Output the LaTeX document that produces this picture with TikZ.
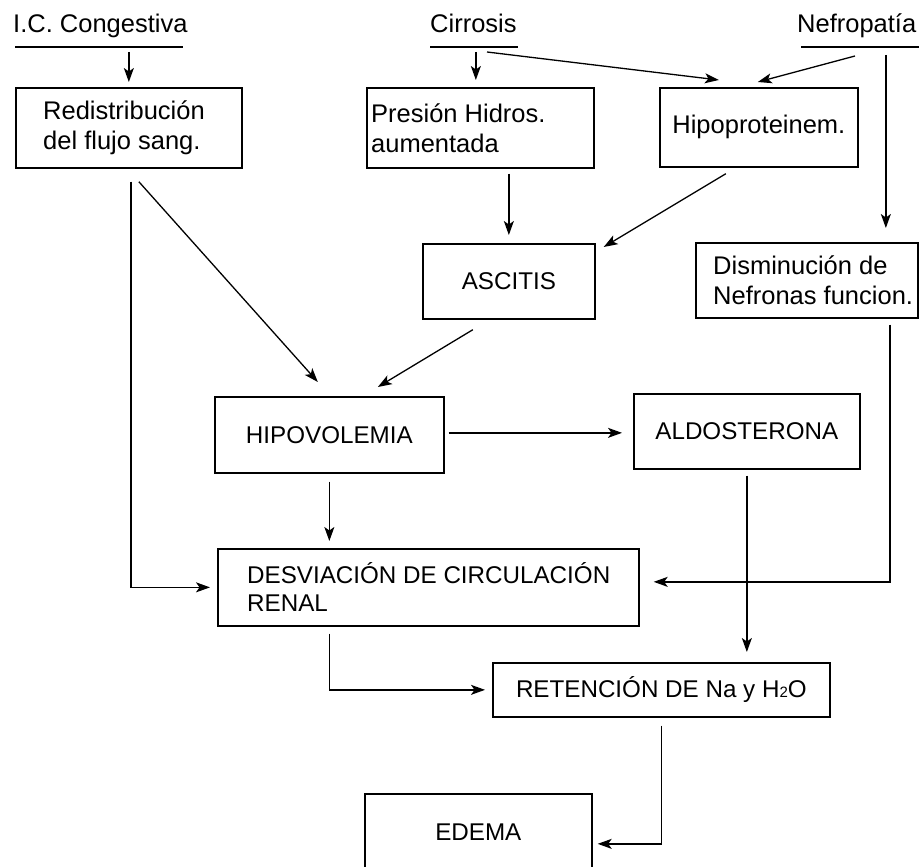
\documentclass[tikz,border=0pt]{standalone}
\usepackage{fontspec}
\setmainfont{Liberation Sans}
\usetikzlibrary{arrows.meta,calc}
\begin{document}
\begin{tikzpicture}[x=1pt,y=-1pt,
  box/.style={draw, line width=1.7pt, inner sep=0pt, anchor=north west},
  lc/.style={font=\fontsize{25.5pt}{30pt}\selectfont, inner sep=0pt},
  uc/.style={font=\fontsize{24.2pt}{28pt}\selectfont, inner sep=0pt},
  conn/.style={line width=1.3pt, -{Stealth[length=14pt,width=10pt,inset=3.5pt]}},
  uline/.style={line width=1.3pt}]
\fill[white] (0,0) rectangle (919,867);
\useasboundingbox (0,0) rectangle (919,867);

% top labels
\node[lc, anchor=base west] (icc) at (13,33) {I.C. Congestiva};
\node[lc, anchor=base west] (cirr) at (430,33) {Cirrosis};
\node[lc, anchor=base west] (nefro) at (797,33) {Nefropatía};
\coordinate (iccU) at (15,47);
\coordinate (cirrU) at (430,47);
\coordinate (nefU) at (801,47);
\draw[uline] (iccU) -- ++(168,0);
\draw[uline] (cirrU) -- ++(88,0);
\draw[uline] (nefU) -- ++(120,0);

% boxes
\node[box, minimum width=226pt, minimum height=80pt] (redis) at (15,87) {};
\node[lc, anchor=west, align=left] (redisT) at ([xshift=28pt]redis.west) {Redistribución\\del flujo sang.};
\node[box, minimum width=227pt, minimum height=80pt] (presion) at (366,87) {};
\node[lc, anchor=west, align=left] (presionT) at ([xshift=5pt]presion.west) {Presión Hidros.\\aumentada};
\node[box, lc, minimum width=198pt, minimum height=79pt] (hipo) at (659,87) {Hipoproteinem.};
\node[box, uc, minimum width=172pt, minimum height=75pt] (ascitis) at (422,243) {ASCITIS};
\node[box, minimum width=222pt, minimum height=75pt] (dismin) at (695,242) {};
\node[lc, anchor=west, align=left] (disminT) at ([xshift=18pt]dismin.west) {Disminución de\\Nefronas funcion.};
\node[box, uc, minimum width=229pt, minimum height=76pt] (hipov) at (214,396) {HIPOVOLEMIA};
\node[box, uc, minimum width=226pt, minimum height=75pt] (aldo) at (633,393) {ALDOSTERONA};
\node[box, minimum width=421pt, minimum height=77pt] (desv) at (217,548) {};
\node[uc, anchor=west, align=left] (desvT) at ([xshift=30pt]desv.west) {DESVIACIÓN DE CIRCULACIÓN\\RENAL};
\node[box, uc, minimum width=337pt, minimum height=54pt] (ret) at (492,662) {RETENCIÓN DE Na y H{\fontsize{15pt}{15pt}\selectfont 2}O};
\node[box, uc, minimum width=227pt, minimum height=76pt] (edema) at (364,793) {EDEMA};

% connectors
\draw[conn] ($(redis.north)+(0,-35)$) -- ($(redis.north)+(0,-5)$);
\draw[conn] ($(presion.north)+(-4.5,-35)$) -- ($(presion.north)+(-4.5,-7)$);
\draw[conn] ($(cirrU)+(57,5)$) -- ($(hipo.north)+(-40,-7)$);
\draw[conn] ($(nefU)+(54,9)$) -- ($(hipo.north)+(-1,-5)$);
\draw[conn] ($(dismin.north)+(79,-187)$) -- ($(dismin.north)+(79,-14)$);
\draw[conn] ($(presion.south)+(28.5,5)$) -- ($(ascitis.north)+(0,-8)$);
\draw[conn] ($(hipo.south)+(-33,6)$) -- ($(ascitis.north east)+(8,4)$);
\draw[conn] ($(redis.south)+(10,13)$) -- ($(hipov.north)+(-11.5,-14)$);
\draw[conn] ($(redis.south)+(2,13)$) |- ($(desv.west)+(-7,0)$);
\draw[conn] ($(ascitis.south)+(-36,10)$) -- ($(hipov.north)+(48.5,-9)$);
\draw[conn] ($(hipov.east)+(4,-2)$) -- ($(aldo.west)+(-11,1.5)$);
\draw[conn] ($(hipov.south)+(0,8)$) -- ($(desv.north)+(-99,-7)$);
\draw[conn] ($(dismin.south)+(83,6)$) |- ($(desv.east)+(14,-5.5)$);
\draw[conn] ($(aldo.south)+(0,6)$) -- ($(ret.north)+(85.5,-10)$);
\draw[conn] ($(desv.south)+(-99,7)$) |- ($(ret.west)+(-7,0)$);
\draw[conn] ($(ret.south)+(0,8)$) |- ($(edema.east)+(5,12)$);
\end{tikzpicture}
\end{document}
